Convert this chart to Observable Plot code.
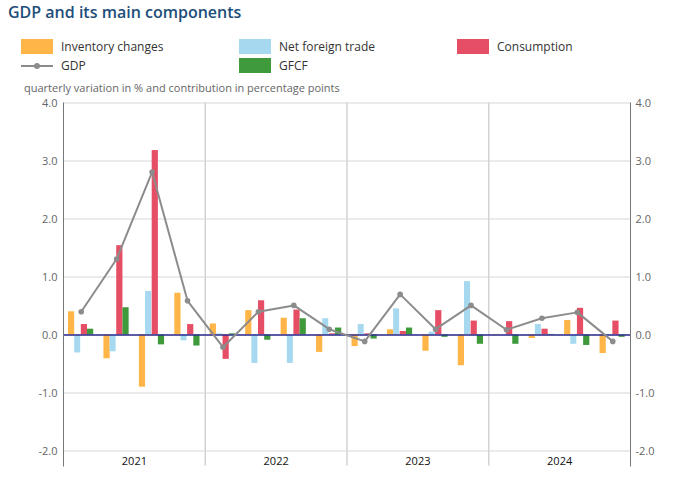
<!DOCTYPE html>
<html><head><meta charset="utf-8">
<script src="https://cdn.jsdelivr.net/npm/d3@7"></script>
<script src="https://cdn.jsdelivr.net/npm/@observablehq/plot@0.6"></script>
<style>
body{margin:0;background:#fff;font-family:"Open Sans",sans-serif;}
#wrap{position:relative;width:677px;height:486px;overflow:hidden;background:#fff;}
#title{position:absolute;left:8px;top:0px;font-size:16px;font-weight:600;color:#1d4e79;line-height:24px;white-space:nowrap;}
.lg{position:absolute;height:16px;display:flex;align-items:center;font-size:12px;color:#333;white-space:nowrap;}
.sw{width:32px;height:15px;margin-right:8px;flex:none;}
.ln{width:32px;height:15px;margin-right:8px;flex:none;position:relative;}
.ln::before{content:"";position:absolute;left:0;right:0;top:7px;height:2px;background:#8c8c8c;}
.ln::after{content:"";position:absolute;left:13px;top:5px;width:6px;height:6px;border-radius:50%;background:#8c8c8c;}
#sub{position:absolute;left:24px;top:80px;font-size:11px;color:#666;line-height:16px;white-space:nowrap;}
#chart{position:absolute;left:0;top:95px;}
</style></head>
<body>
<div id="wrap">
  <div id="title">GDP and its main components</div>
  <div id="legend"></div>
  <div id="sub">quarterly variation in % and contribution in percentage points</div>
  <div id="chart"></div>
</div>
<script>
const quarters = ["2021-Q1","2021-Q2","2021-Q3","2021-Q4","2022-Q1","2022-Q2","2022-Q3","2022-Q4","2023-Q1","2023-Q2","2023-Q3","2023-Q4","2024-Q1","2024-Q2","2024-Q3","2024-Q4"];
const years = ["2021","2022","2023","2024"];
const inventory   = [0.40,-0.41,-0.90, 0.72, 0.19, 0.42, 0.29,-0.30,-0.20, 0.09,-0.28,-0.53, 0.01,-0.06, 0.25,-0.32];
const netTrade    = [-0.31,-0.29,0.75,-0.10, 0.02,-0.49,-0.49, 0.28, 0.18, 0.45, 0.05, 0.92, 0.00, 0.18,-0.16, 0.01];
const consumption = [0.18, 1.54, 3.18, 0.18,-0.42, 0.59, 0.43, 0.02, 0.02, 0.06, 0.42, 0.24, 0.23, 0.10, 0.46, 0.24];
const gfcf        = [0.10, 0.47,-0.17,-0.19, 0.02,-0.09, 0.28, 0.12,-0.07, 0.12,-0.04,-0.16,-0.16, 0.01,-0.18,-0.04];
const gdp         = [0.40, 1.31, 2.81, 0.59,-0.21, 0.40, 0.51, 0.10,-0.11, 0.70, 0.10, 0.51, 0.09, 0.29, 0.39,-0.11];
const yTicks = [-2,-1,0,1,2,3,4];

const barSeries = [
  {name:"Inventory changes", values:inventory,   color:"#ffb547"},
  {name:"Net foreign trade", values:netTrade,    color:"#a6d9f0"},
  {name:"Consumption",       values:consumption, color:"#e64e66"},
  {name:"GFCF",              values:gfcf,        color:"#3f9a3c"}
];
const gdpColor = "#8c8c8c";

// Legend
const legendItems = [
  {label:"Inventory changes", color:"#ffb547", col:0,row:0},
  {label:"Net foreign trade", color:"#a6d9f0", col:1,row:0},
  {label:"Consumption",       color:"#e64e66", col:2,row:0},
  {label:"GDP",               line:true,       col:0,row:1},
  {label:"GFCF",              color:"#3f9a3c", col:1,row:1}
];
const colX = [21, 239, 457], rowY = [38, 57.5];
const legend = document.getElementById("legend");
for (const it of legendItems) {
  const d = document.createElement("div");
  d.className = "lg";
  d.style.left = colX[it.col] + "px";
  d.style.top = rowY[it.row] + "px";
  const s = document.createElement("span");
  if (it.line) s.className = "ln"; else { s.className = "sw"; s.style.background = it.color; }
  d.appendChild(s);
  d.appendChild(document.createTextNode(it.label));
  legend.appendChild(d);
}

// Chart
const W = 677, H = 391, ML = 63, MR = 47, MT = 7.5, MB = 35.5;
const bw = (W - ML - MR) / quarters.length;
const slots = [[5.0,11.2],[11.2,17.2],[17.8,24.0],[24.0,30.2]];
const rows = quarters.map((q,i) => ({q, year:q.slice(0,4), gdp:gdp[i]}));
const yearStarts = quarters.filter(q => q.endsWith("Q1") && !q.startsWith(years[0]));
const yearMid = years.map(y => ({year:y, q:y + "-Q2"}));
const fmt = d => d.toFixed(1);

const marks = [
  Plot.gridY(yTicks, {stroke:"#d6d6d6", strokeOpacity:1, strokeWidth:1}),
  Plot.ruleX(yearStarts, {x:d=>d, dx:-bw/2, stroke:"#d3d3d3", strokeWidth:1.5, insetBottom:-15}),
];
barSeries.forEach((s, k) => {
  marks.push(Plot.barY(quarters.map((q,i)=>({q, v:s.values[i]})), {
    x:"q", y:"v", fill:s.color,
    insetLeft: slots[k][0], insetRight: bw - slots[k][1]
  }));
});
marks.push(
  Plot.ruleY([0], {stroke:"#2b2b8f", strokeWidth:1.5}),
  Plot.lineY(rows, {x:"q", y:"gdp", stroke:gdpColor, strokeWidth:2}),
  Plot.dot(rows, {x:"q", y:"gdp", r:2.8, fill:gdpColor}),
  Plot.frame({anchor:"left", stroke:"#777", insetBottom:-15}),
  Plot.frame({anchor:"right", stroke:"#777", insetBottom:-15}),
  Plot.axisY(yTicks, {anchor:"left", tickSize:0, tickPadding:6, tickFormat:fmt, fontSize:11, fill:"#666", label:null}),
  Plot.axisY(yTicks, {anchor:"right", tickSize:0, tickPadding:5, tickFormat:fmt, fontSize:11, fill:"#666", label:null}),
  Plot.text(yearMid, {x:"q", text:"year", dx:bw/2, frameAnchor:"bottom", dy:13.5, fontSize:11, fill:"#111"})
);

const chart = Plot.plot({
  width: W, height: H,
  marginLeft: ML, marginRight: MR, marginTop: MT, marginBottom: MB,
  style: {fontFamily:'"Open Sans", sans-serif', background:"#fff", overflow:"visible"},
  x: {type:"band", domain:quarters, padding:0, round:false, axis:null},
  y: {domain:[-2,4], axis:null},
  marks
});
document.getElementById("chart").appendChild(chart);
</script>
</body></html>
